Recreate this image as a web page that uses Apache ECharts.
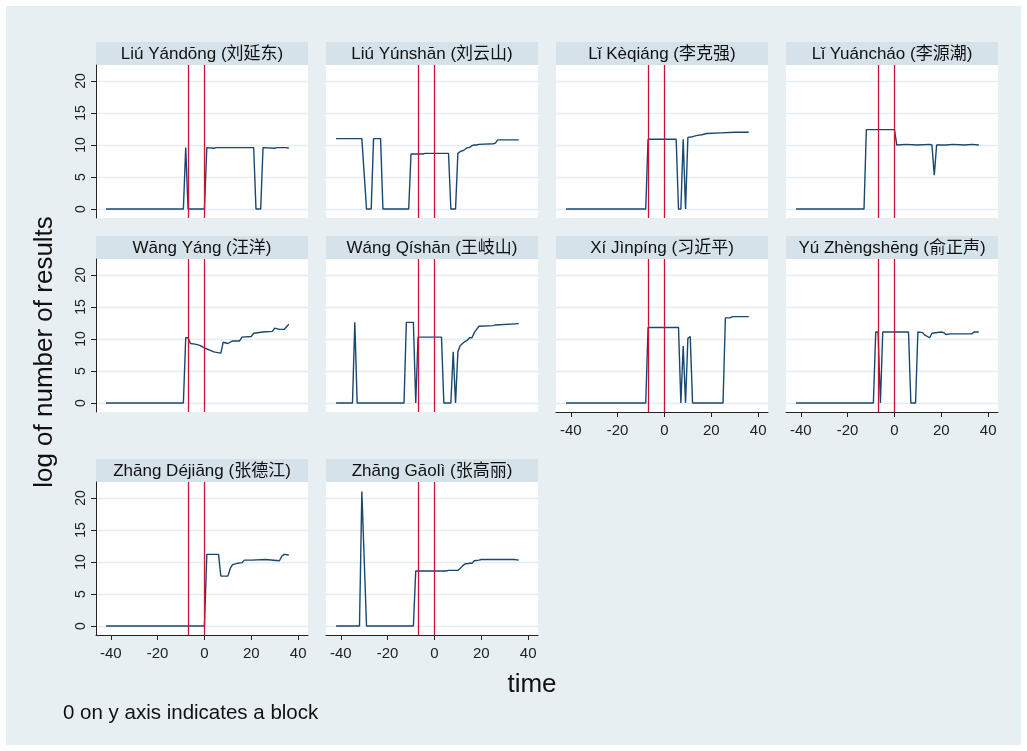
<!DOCTYPE html>
<html><head><meta charset="utf-8">
<script src="https://cdn.jsdelivr.net/npm/echarts@6/dist/echarts.min.js"></script>
<style>html,body{margin:0;padding:0;background:#fff}#c{width:1027px;height:751px}</style>
</head><body><div id="c"></div><script>
// ---------- data ----------
const panelNames = [
  'Liú Yándōng (刘延东)', 'Liú Yúnshān (刘云山)', 'Lǐ Kèqiáng (李克强)', 'Lǐ Yuáncháo (李源潮)',
  'Wāng Yáng (汪洋)', 'Wáng Qíshān (王岐山)', 'Xí Jìnpíng (习近平)', 'Yú Zhèngshēng (俞正声)',
  'Zhāng Déjiāng (张德江)', 'Zhāng Gāolì (张高丽)'
];
const liuYandong = [[-42,0],[-9,0],[-8,9.6],[-7,0],[0,0],[1,9.6],[4,9.5],[5,9.6],[21,9.6],[22,0],[24,0],[25,9.6],[30,9.5],[31,9.6],[35,9.6],[36,9.5]];
const liuYunshan = [[-42,11],[-31,11],[-29,0],[-27,0],[-26,11],[-23,11],[-22,0],[-11,0],[-10,8.6],[-5,8.6],[-4,8.7],[2,8.7],[6,8.7],[7,0],[9,0],[10,8.7],[11,9],[12,9.1],[13,9.3],[14,9.6],[15,9.6],[16,9.9],[17,10],[18,10],[19,10.1],[25,10.2],[26,10.3],[27,10.8],[36,10.8]];
const liKeqiang = [[-42,0],[-8,0],[-7,10.9],[5,10.9],[6,0],[7,0],[8,10.9],[9,0],[10,11.2],[12,11.3],[14,11.5],[16,11.6],[18,11.8],[24,11.9],[30,12],[36,12]];
const liYuanchao = [[-42,0],[-13,0],[-12,12.4],[0,12.4],[1,10],[5,10.1],[10,10],[15,10.1],[16,10],[17,5.3],[18,10],[22,10],[25,10.1],[30,10],[33,10.1],[36,10]];
const wangYang = [[-42,0],[-9,0],[-8,10.2],[-7,10.2],[-6,9.3],[-4,9.2],[-2,9],[0,8.6],[2,8.3],[4,8],[7,7.8],[8,9.5],[10,9.3],[12,9.7],[15,9.7],[16,10.3],[20,10.4],[21,10.9],[25,11.1],[29,11.2],[30,11.7],[32,11.5],[34,11.5],[36,12.3]];
const wangQishan = [[-42,0],[-35,0],[-34,12.6],[-33,0],[-13,0],[-12,12.6],[-9,12.6],[-8,0],[-7,10.3],[3,10.3],[4,0],[7,0],[8,8],[9,0],[10,8],[11,9],[12,9.3],[13,9.6],[14,9.8],[15,10.2],[16,10.2],[17,11],[18,11.5],[19,12],[25,12.1],[26,12.2],[36,12.4]];
const xiJinping = [[-42,0],[-8,0],[-7,11.8],[6,11.8],[7,0],[8,8.9],[9,0],[10,10.1],[11,10.4],[12,0],[25,0],[26,13.3],[28,13.3],[29,13.5],[36,13.5]];
const yuZhengsheng = [[-42,0],[-9,0],[-8,11.1],[-7,11.1],[-6,0],[-5,11.1],[6,11.1],[7,0],[9,0],[10,11.1],[12,11],[13,10.6],[15,10.2],[16,10.9],[20,11.1],[21,11],[22,10.7],[24,10.8],[33,10.8],[34,11.1],[36,11.1]];
const zhangDejiang = [[-42,0],[0,0],[1,11.2],[6,11.2],[7,7.8],[10,7.8],[11,9],[12,9.6],[14,9.8],[16,9.9],[17,10.3],[20,10.3],[26,10.4],[32,10.2],[33,10.9],[34,11.2],[36,11.1]];
const zhangGaoli = [[-42,0],[-32,0],[-31,21],[-29,0],[-9,0],[-8,8.6],[5,8.6],[6,8.7],[10,8.7],[11,9],[12,9.4],[13,9.7],[15,9.8],[16,9.8],[17,10.2],[19,10.3],[20,10.4],[30,10.4],[34,10.4],[36,10.3]];
const seriesData = [liuYandong, liuYunshan, liKeqiang, liYuanchao, wangYang, wangQishan, xiJinping, yuZhengsheng, zhangDejiang, zhangGaoli];
const yTicks = [0, 5, 10, 15, 20];
const xTicks = [-40, -20, 0, 20, 40];
const eventLines = [-7, 0];
const yTitle = 'log of number of results';
const xTitle = 'time';
const note = '0 on y axis indicates a block';

// ---------- layout ----------
const colLeft = [96, 326, 556, 786];
const rowTop = [42, 236, 459];
const panelW = 212, headH = 23, plotH = 153;
const xAxisPanels = [6, 7, 8, 9];
const FONT = "'Liberation Sans', Arial, 'Noto Sans CJK SC', sans-serif";
const lineColor = '#1a476f';
const redColor = '#cc1439';

const grids = [], xAxes = [], yAxes = [], series = [];
const graphics = [{type:'rect', shape:{x:6,y:6,width:1015,height:739}, style:{fill:'#e8eff2'}, z:-100}];

seriesData.forEach((d, i) => {
  const r = Math.floor(i / 4), c = i % 4;
  const left = colLeft[c], top = rowTop[r] + headH;
  grids.push({left: left, top: top, width: panelW, height: plotH, show: true, backgroundColor: '#ffffff', borderWidth: 0, containLabel: false});
  const hasX = xAxisPanels.includes(i);
  const hasY = c === 0;
  xAxes.push({
    type: 'value', gridIndex: i, min: -46.3, max: 44.2,
    axisLine: {show: hasX, onZero: false, lineStyle: {color: '#222', width: 1}},
    axisTick: {show: hasX, length: 5, lineStyle: {color: '#222'}, customValues: xTicks},
    axisLabel: {show: hasX, customValues: xTicks, fontSize: 15, color: '#222', margin: 11, fontFamily: FONT},
    splitLine: {show: false}
  });
  yAxes.push({
    type: 'value', gridIndex: i, min: -1.4, max: 22.5,
    axisLine: {show: hasY, onZero: false, lineStyle: {color: '#222', width: 1}},
    axisTick: {show: hasY, length: 5, lineStyle: {color: '#222'}, customValues: yTicks},
    axisLabel: {show: hasY, customValues: yTicks, rotate: 90, fontSize: 14, color: '#222', margin: 8, fontFamily: FONT},
    splitLine: {show: true, lineStyle: {color: '#e4edf0', width: 1.3}}
  });
  series.push({
    type: 'line', xAxisIndex: i, yAxisIndex: i, data: d, showSymbol: false, symbol: 'none',
    lineStyle: {color: lineColor, width: 1.4}, animation: false, z: 3,
    markLine: {silent: true, symbol: 'none', animation: false,
      label: {show: false},
      lineStyle: {color: redColor, width: 1.3, type: 'solid'},
      data: eventLines.map(v => ({xAxis: v}))}
  });
  graphics.push({type:'rect', shape:{x:left, y:rowTop[r], width:panelW, height:headH}, style:{fill:'#d6e2e9'}});
  graphics.push({type:'text', x:left + panelW/2, y:rowTop[r] + headH/2 + 1,
    style:{text: panelNames[i], fontSize: 17, fontFamily: FONT, fill:'#111', textAlign:'center', textVerticalAlign:'middle'}});
});

graphics.push({type:'text', x:45, y:352, rotation: Math.PI/2,
  style:{text: yTitle, fontSize: 26, fontFamily: FONT, fill:'#111', textAlign:'center', textVerticalAlign:'middle'}});
graphics.push({type:'text', x:532, y:685,
  style:{text: xTitle, fontSize: 26, fontFamily: FONT, fill:'#111', textAlign:'center', textVerticalAlign:'middle'}});
graphics.push({type:'text', x:63, y:713,
  style:{text: note, fontSize: 20.5, fontFamily: FONT, fill:'#111', textAlign:'left', textVerticalAlign:'middle'}});

const chart = echarts.init(document.getElementById('c'), null, {renderer: 'canvas'});
chart.setOption({
  backgroundColor: '#ffffff',
  animation: false,
  grid: grids, xAxis: xAxes, yAxis: yAxes, series: series,
  graphic: {elements: graphics}
});
</script></body></html>
